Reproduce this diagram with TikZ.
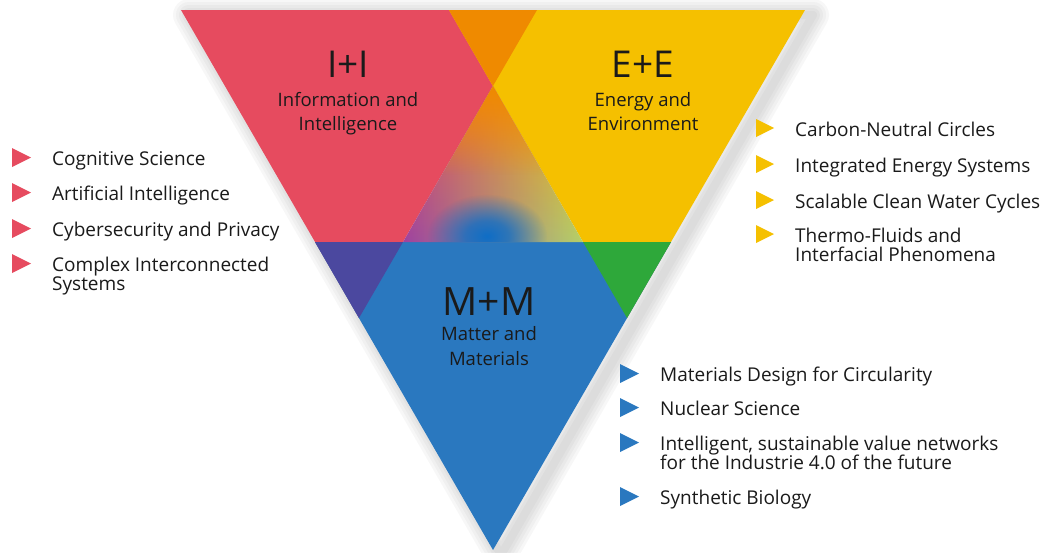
\documentclass[tikz,border=0pt]{standalone}
\usepackage{fontspec}
\setmainfont{Open Sans}
\usetikzlibrary{positioning,fadings}

\definecolor{iired}{HTML}{E64B5F}
\definecolor{eeyellow}{HTML}{F5C000}
\definecolor{mmblue}{HTML}{2A78BF}
\definecolor{ieorange}{HTML}{EF8A00}
\definecolor{impurple}{HTML}{4B489F}
\definecolor{emgreen}{HTML}{2EA83A}
\definecolor{blendviolet}{HTML}{9A42A4}
\definecolor{blendlime}{HTML}{B0D270}
\definecolor{blendblue}{HTML}{0F6EC6}
\definecolor{txt}{HTML}{1A1A1A}

\tikzfading[name=fadedown, top color=transparent!0, middle color=transparent!0, bottom color=transparent!100]
\pgfdeclareradialshading{blobmask}{\pgfpointorigin}{color(0bp)=(white); color(9bp)=(white!80!black); color(25bp)=(black); color(50bp)=(black)}
\pgfdeclarefading{blobfade}{\pgfuseshading{blobmask}}

\tikzset{
  title/.style={font=\fontsize{37}{37}\selectfont, text=txt, inner sep=0pt},
  subtitle/.style={font=\fontsize{18.5}{24.5}\selectfont, align=center, text=txt, inner sep=0pt},
  item/.style={font=\fontsize{19}{19.5}\selectfont, align=left, anchor=base west, text=txt, inner sep=0pt},
}

\begin{document}
\begin{tikzpicture}[x=1pt, y=1pt]
\fill[white] (0,0) rectangle (1045,-552);
\useasboundingbox (0,0) rectangle (1045,-552);

% corners of the big triangle and of the three fields
\coordinate (tl) at (181,-10);
\coordinate (tr) at (805,-10);
\coordinate (ap) at (493,-550);
\coordinate (rtr) at (537,-10);
\coordinate (rap) at (359,-318);
\coordinate (ytl) at (449,-10);
\coordinate (yap) at (627,-318);
\coordinate (btl) at (315,-242);
\coordinate (btr) at (671,-242);
\coordinate (ot) at (493,-86);
\coordinate (cl) at (403,-242);
\coordinate (cr) at (583,-242);

% soft shadow
\foreach \w in {32,26,...,8}
  \draw[black!70, opacity=0.04, line width=\w, line join=round]
    ([shift={(8,-5)}]tl) -- ([shift={(8,-5)}]tr) -- ([shift={(8,-5)}]ap) -- cycle;

% fields
\fill[iired] (tl) -- (rtr) -- (rap) -- cycle;
\fill[eeyellow] (ytl) -- (tr) -- (yap) -- cycle;
\fill[mmblue] (btl) -- (btr) -- (ap) -- cycle;
\fill[ieorange] (ytl) -- (rtr) -- (ot) -- cycle;
\fill[impurple] (btl) -- (cl) -- (rap) -- cycle;
\fill[emgreen] (cr) -- (btr) -- (yap) -- cycle;

% blended middle
\begin{scope}
\clip (ot) -- (cl) -- (cr) -- cycle;
\shade[left color=blendviolet, right color=blendlime] (cl) rectangle (cr |- ot);
\shade[left color=iired, right color=eeyellow, path fading=fadedown] (cl |- ot) rectangle (583,-252);
\shade[top color=ieorange, bottom color=ieorange, path fading=fadedown] (cl |- ot) rectangle (583,-175);
\shade[inner color=blendblue, outer color=blendblue, path fading=blobfade] (487,-236) ellipse (60 and 42);
\end{scope}

% titles
\node[title] (ii) at (348,-64.5) {I+I};
\node[subtitle, below=14pt of ii] (iisub) {Information and\\Intelligence};
\node[title] (ee) at (643,-64.5) {E+E};
\node[subtitle, below=14pt of ee] (eesub) {Energy and\\Environment};
\node[title, font=\fontsize{39}{39}\selectfont] (mm) at (489,-301.5) {M+M};
\node[subtitle, below=11pt of mm] (mmsub) {Matter and\\Materials};

% topic lists (y = first baseline, n = number of lines)
\foreach \y/\n/\t [count=\i] in {165/1/Cognitive Science, 200/1/Artificial Intelligence,
    236/1/Cybersecurity and Privacy, 271/2/{Complex Interconnected\\Systems}} {
  \node[item] (ii\i) at (52,-\y-19.5*\n+19.5) {\t};
  \fill[iired] ([shift={(-40,17+19.5*\n-19.5)}]ii\i.base west) -- ++(19,-9.5) -- ++(-19,-9.5) -- cycle;
}
\foreach \y/\n/\t [count=\i] in {136/1/Carbon-Neutral Circles, 172/1/Integrated Energy Systems,
    208/1/Scalable Clean Water Cycles, 242/2/{Thermo-Fluids and\\Interfacial Phenomena}} {
  \node[item] (ee\i) at (795,-\y-19.5*\n+19.5) {\t};
  \fill[eeyellow] ([shift={(-39,17+19.5*\n-19.5)}]ee\i.base west) -- ++(18,-9) -- ++(-18,-9) -- cycle;
}
\foreach \y/\n/\t [count=\i] in {381/1/Materials Design for Circularity, 415/1/Nuclear Science,
    450/2/{Intelligent, sustainable value networks\\for the Industrie 4.0 of the future},
    504/1/Synthetic Biology} {
  \node[item] (mm\i) at (660,-\y-19.5*\n+19.5) {\t};
  \fill[mmblue] ([shift={(-40,17+19.5*\n-19.5)}]mm\i.base west) -- ++(19,-9.5) -- ++(-19,-9.5) -- cycle;
}
\end{tikzpicture}
\end{document}
